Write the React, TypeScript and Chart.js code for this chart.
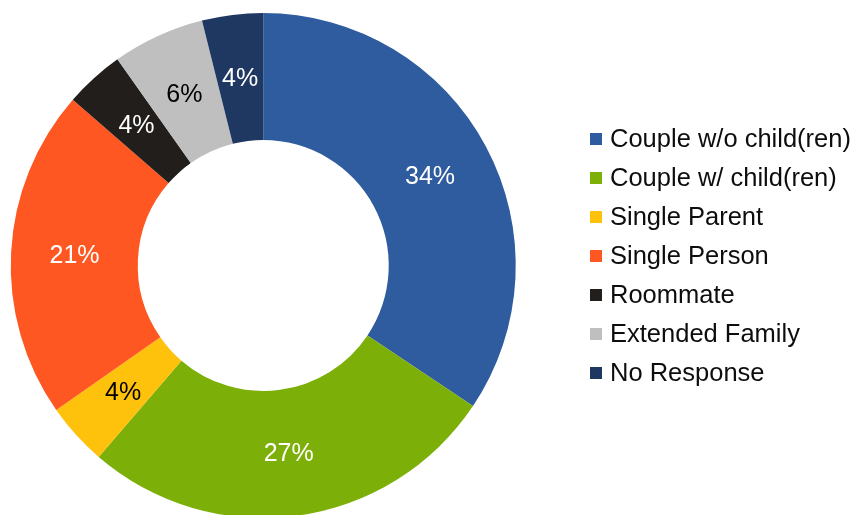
import React, { useEffect, useRef } from "react";
import { Chart, registerables } from "chart.js";

Chart.register(...registerables);

const categories = [
  "Couple w/o child(ren)",
  "Couple w/ child(ren)",
  "Single Parent",
  "Single Person",
  "Roommate",
  "Extended Family",
  "No Response",
];
const shares = [34.4, 26.9, 4.0, 21.1, 3.8, 5.9, 3.9];
const colors = ["#2E5C9E", "#7DAF09", "#FEC10C", "#FE5722", "#221E1B", "#BFBFBF", "#1E3862"];
const labelColors = ["#FFFFFF", "#FFFFFF", "#000000", "#FFFFFF", "#FFFFFF", "#000000", "#FFFFFF"];

const FONT = '"Liberation Sans", Arial, sans-serif';

const sliceLabels = {
  id: "sliceLabels",
  afterDatasetsDraw(chart: any) {
    const ctx = chart.ctx;
    const meta = chart.getDatasetMeta(0);
    const data = chart.data.datasets[0].data as number[];
    const total = data.reduce((a, b) => a + b, 0);
    ctx.save();
    ctx.font = `25px ${FONT}`;
    ctx.textAlign = "center";
    ctx.textBaseline = "middle";
    meta.data.forEach((arc: any, i: number) => {
      const p = arc.tooltipPosition();
      ctx.fillStyle = labelColors[i];
      ctx.fillText(Math.round((data[i] / total) * 100) + "%", p.x, p.y + 1);
    });
    ctx.restore();
  },
};

const sideLegend = {
  id: "sideLegend",
  afterDraw(chart: any) {
    const ctx = chart.ctx;
    const labels = chart.data.labels as string[];
    const bg = chart.data.datasets[0].backgroundColor as string[];
    const boxX = 590;
    const textX = 610;
    const startY = 139;
    const step = 39;
    ctx.save();
    ctx.font = `25.5px ${FONT}`;
    ctx.textAlign = "left";
    ctx.textBaseline = "middle";
    labels.forEach((lab, i) => {
      const y = startY + i * step;
      ctx.fillStyle = bg[i];
      ctx.fillRect(boxX, y - 6, 12, 12);
      ctx.fillStyle = "#0D0D0D";
      ctx.fillText(lab, textX, y + 1);
    });
    ctx.restore();
  },
};

export default function App() {
  const ref = useRef<HTMLCanvasElement | null>(null);
  useEffect(() => {
    document.body.style.overflow = "hidden";
    const chart = new Chart(ref.current as HTMLCanvasElement, {
      type: "doughnut",
      data: {
        labels: categories,
        datasets: [
          {
            data: shares,
            backgroundColor: colors,
            borderWidth: 0,
            hoverOffset: 0,
            offset: 0,
          },
        ],
      },
      options: {
        responsive: false,
        animation: false,
        cutout: "49.7%",
        layout: { padding: { left: 10.5, top: 13, right: 341, bottom: 22 } },
        plugins: {
          legend: { display: false },
          tooltip: { enabled: false },
        },
      },
      plugins: [sliceLabels, sideLegend],
    });
    return () => chart.destroy();
  }, []);
  return (
    <div style={{ position: "fixed", left: 0, top: 0, width: 857, height: 540, background: "#fff" }}>
      <canvas ref={ref} width={857} height={540} style={{ width: 857, height: 540, display: "block" }} />
    </div>
  );
}
